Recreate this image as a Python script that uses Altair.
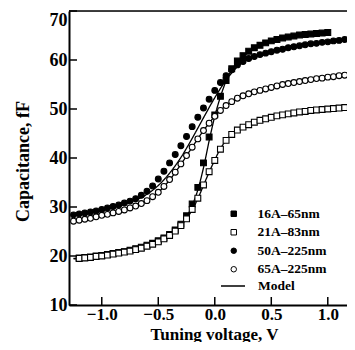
import altair as alt
import pandas as pd

# ---------------- data ----------------
SERIES = ["16A\u201365nm", "21A\u201383nm", "50A\u2013225nm", "65A\u2013225nm"]

v_16A = [-1.20, -1.15, -1.10, -1.05, -1.00, -0.95, -0.90, -0.85, -0.80, -0.75,
         -0.70, -0.65, -0.60, -0.55, -0.50, -0.45, -0.40, -0.35, -0.30, -0.25,
         -0.20, -0.15, -0.10, -0.05, 0.00, 0.05, 0.10, 0.15, 0.20, 0.25,
         0.30, 0.35, 0.40, 0.45, 0.50, 0.55, 0.60, 0.65, 0.70, 0.75,
         0.80, 0.85, 0.90, 0.95, 1.00]
c_16A = [19.6, 19.7, 19.8, 20.0, 20.1, 20.3, 20.5, 20.7, 20.9, 21.2,
         21.5, 21.8, 22.2, 22.6, 23.1, 23.7, 24.4, 25.3, 26.5, 28.2,
         30.6, 34.0, 39.0, 44.3, 48.8, 52.6, 55.8, 58.2, 59.8, 60.9,
         61.8, 62.5, 63.0, 63.5, 63.9, 64.2, 64.5, 64.7, 64.9, 65.1,
         65.2, 65.3, 65.4, 65.5, 65.6]

v_21A = [-1.20, -1.15, -1.10, -1.05, -1.00, -0.95, -0.90, -0.85, -0.80, -0.75,
         -0.70, -0.65, -0.60, -0.55, -0.50, -0.45, -0.40, -0.35, -0.30, -0.25,
         -0.20, -0.15, -0.10, -0.05, 0.00, 0.05, 0.10, 0.15, 0.20, 0.25,
         0.30, 0.35, 0.40, 0.45, 0.50, 0.55, 0.60, 0.65, 0.70, 0.75,
         0.80, 0.85, 0.90, 0.95, 1.00, 1.05, 1.10, 1.15, 1.20]
c_21A = [19.5, 19.6, 19.7, 19.9, 20.0, 20.2, 20.4, 20.6, 20.8, 21.0,
         21.3, 21.6, 22.0, 22.4, 22.9, 23.5, 24.2, 25.1, 26.2, 27.6,
         29.5, 31.8, 34.5, 37.2, 39.5, 41.8, 43.6, 44.8, 45.7, 46.3,
         46.8, 47.3, 47.7, 48.0, 48.3, 48.6, 48.8, 49.0, 49.2, 49.4,
         49.5, 49.7, 49.8, 49.9, 50.0, 50.1, 50.2, 50.3, 50.3]

v_circ = [-1.25, -1.20, -1.15, -1.10, -1.05, -1.00, -0.95, -0.90, -0.85, -0.80,
          -0.75, -0.70, -0.65, -0.60, -0.55, -0.50, -0.45, -0.40, -0.35, -0.30,
          -0.25, -0.20, -0.15, -0.10, -0.05, 0.00, 0.05, 0.10, 0.15, 0.20,
          0.25, 0.30, 0.35, 0.40, 0.45, 0.50, 0.55, 0.60, 0.65, 0.70,
          0.75, 0.80, 0.85, 0.90, 0.95, 1.00, 1.05, 1.10, 1.15, 1.20]
c_50A = [28.4, 28.6, 28.8, 29.0, 29.2, 29.5, 29.8, 30.1, 30.4, 30.8,
         31.2, 31.7, 32.4, 33.2, 34.3, 35.7, 37.3, 39.0, 40.7, 42.5,
         44.4, 46.4, 48.3, 50.2, 52.0, 53.8, 55.4, 56.8, 58.0, 59.0,
         59.7, 60.3, 60.7, 61.1, 61.4, 61.7, 62.0, 62.2, 62.5, 62.7,
         62.9, 63.1, 63.3, 63.4, 63.6, 63.7, 63.9, 64.0, 64.2, 64.3]
c_65A = [27.1, 27.3, 27.5, 27.7, 28.0, 28.3, 28.5, 28.8, 29.1, 29.4,
         29.8, 30.2, 30.7, 31.3, 32.1, 33.0, 34.2, 35.6, 37.1, 38.8,
         40.5, 42.2, 43.9, 45.6, 47.1, 48.5, 49.7, 50.7, 51.5, 52.2,
         52.7, 53.1, 53.5, 53.8, 54.1, 54.4, 54.7, 55.0, 55.2, 55.4,
         55.6, 55.8, 56.0, 56.2, 56.3, 56.5, 56.6, 56.8, 56.9, 57.0]

# model curves
vm_16A = [-1.25, -1.0, -0.8, -0.6, -0.5, -0.4, -0.3, -0.2, -0.15, -0.1, -0.05,
          0.0, 0.05, 0.1, 0.15, 0.2, 0.3, 0.4, 0.5, 0.6, 0.7, 0.8, 0.9, 1.0]
cm_16A = [19.5, 20.1, 20.9, 22.2, 23.1, 24.4, 26.4, 30.3, 33.5, 38.0, 43.5,
          48.5, 52.5, 55.7, 58.0, 59.6, 61.6, 62.9, 63.8, 64.4, 64.9, 65.2, 65.4, 65.6]
vm_21A = [-1.25, -1.0, -0.8, -0.6, -0.5, -0.4, -0.3, -0.2, -0.15, -0.1, -0.05,
          0.0, 0.05, 0.1, 0.15, 0.2, 0.3, 0.4, 0.5, 0.6, 0.7, 0.8, 0.9, 1.0, 1.1, 1.2]
cm_21A = [19.4, 20.0, 20.8, 22.0, 22.9, 24.2, 26.2, 29.4, 31.7, 34.4, 37.1,
          39.6, 41.9, 43.6, 44.8, 45.7, 46.8, 47.7, 48.3, 48.8, 49.2, 49.5, 49.8, 50.0, 50.2, 50.3]
vm_circ = [-1.25, -1.0, -0.8, -0.6, -0.5, -0.4, -0.3, -0.2, -0.1, 0.0, 0.1,
           0.2, 0.3, 0.4, 0.5, 0.6, 0.7, 0.8, 0.9, 1.0, 1.1, 1.2]
cm_50A = [28.2, 29.3, 30.6, 32.6, 34.4, 36.9, 40.1, 44.0, 48.2, 52.3, 55.9,
          58.6, 60.2, 61.1, 61.8, 62.3, 62.8, 63.2, 63.5, 63.8, 64.1, 64.3]
cm_65A = [27.0, 28.2, 29.4, 31.3, 33.0, 35.5, 38.7, 42.2, 45.6, 48.5, 50.7,
          52.2, 53.1, 53.8, 54.4, 55.0, 55.4, 55.8, 56.2, 56.5, 56.8, 57.0]

X_TICKS = [-1.0, -0.5, 0.0, 0.5, 1.0]
Y_TICKS = [10, 20, 30, 40, 50, 60, 70]

# ---------------- tables ----------------
pts = pd.concat([
    pd.DataFrame({"v": v_16A, "c": c_16A, "series": SERIES[0]}),
    pd.DataFrame({"v": v_21A, "c": c_21A, "series": SERIES[1]}),
    pd.DataFrame({"v": v_circ, "c": c_50A, "series": SERIES[2]}),
    pd.DataFrame({"v": v_circ, "c": c_65A, "series": SERIES[3]}),
], ignore_index=True)

mdl = pd.concat([
    pd.DataFrame({"v": vm_16A, "c": cm_16A, "series": SERIES[0]}),
    pd.DataFrame({"v": vm_21A, "c": cm_21A, "series": SERIES[1]}),
    pd.DataFrame({"v": vm_circ, "c": cm_50A, "series": SERIES[2]}),
    pd.DataFrame({"v": vm_circ, "c": cm_65A, "series": SERIES[3]}),
], ignore_index=True)
mdl["kind"] = "Model"

# ---------------- styling ----------------
FONT = "Liberation Serif"
W, H = 278, 294
TICK = 8

xs = alt.Scale(domain=[-1.29, 1.17], nice=False, zero=False)
ys = alt.Scale(domain=[10, 70], nice=False, zero=False)

x_axis = alt.Axis(values=X_TICKS, format=".1f", grid=False, tickSize=0,
                  labelFont=FONT, labelFontWeight="bold", labelFontSize=17,
                  labelColor="black", labelPadding=1, labelFlush=False,
                  domainColor="black", domainWidth=2,
                  title="Tuning voltage, V", titleFont=FONT, titleFontWeight="bold",
                  titleFontSize=17, titleColor="black",
                  titleX=145, titleY=34, titleBaseline="alphabetic")
y_axis = alt.Axis(values=Y_TICKS, format="d", grid=False, tickSize=0,
                  labelFont=FONT, labelFontWeight="bold", labelFontSize=18,
                  labelColor="black", labelPadding=2, labelFlush=False,
                  labelBaseline={"condition": {"test": "datum.value == 70", "value": "top"},
                                 "value": "middle"},
                  domainColor="black", domainWidth=2,
                  title="Capacitance, fF", titleFont=FONT, titleFontWeight="bold",
                  titleFontSize=18, titleColor="black",
                  titleX=-41, titleY=150, titleBaseline="alphabetic")

LEG_FONT = dict(labelFont=FONT, labelFontWeight="bold", labelFontSize=13.5,
                labelColor="black", padding=0, title=None, orient="none")
pt_legend = alt.Legend(legendX=158, legendY=196, symbolSize=30,
                       symbolStrokeWidth=1, rowPadding=3.5, labelOffset=17, **LEG_FONT)
ln_legend = alt.Legend(legendX=151, legendY=262, symbolType="stroke", symbolSize=576,
                       symbolStrokeWidth=1.5, symbolStrokeColor="black",
                       labelOffset=12, **LEG_FONT)

lines = alt.Chart(mdl).mark_line(strokeWidth=1.3, clip=True, interpolate="monotone",
                                 color="black").encode(
    x=alt.X("v:Q", scale=xs, axis=x_axis),
    y=alt.Y("c:Q", scale=ys, axis=y_axis),
    detail="series:N",
    strokeDash=alt.StrokeDash("kind:N", scale=alt.Scale(domain=["Model"], range=[[1, 0]]),
                              legend=ln_legend),
)

points = alt.Chart(pts).mark_point(filled=True, strokeWidth=1.1,
                                   size=34, opacity=1, clip=True).encode(
    x=alt.X("v:Q", scale=xs, axis=x_axis),
    y=alt.Y("c:Q", scale=ys, axis=y_axis),
    shape=alt.Shape("series:N", scale=alt.Scale(domain=SERIES,
                    range=["square", "square", "circle", "circle"]), legend=pt_legend),
    fill=alt.Fill("series:N", scale=alt.Scale(domain=SERIES,
                  range=["black", "white", "black", "white"]), legend=pt_legend),
    stroke=alt.Stroke("series:N", scale=alt.Scale(domain=SERIES,
                      range=["black", "black", "black", "black"]), legend=pt_legend),
)

xticks = alt.Chart(pd.DataFrame({"t": X_TICKS})).mark_rule(color="black", strokeWidth=1.5).encode(
    x=alt.X("t:Q", scale=xs, axis=x_axis),
    y=alt.value(H), y2=alt.value(H - TICK),
)
yticks = alt.Chart(pd.DataFrame({"t": Y_TICKS})).mark_rule(color="black", strokeWidth=1.5).encode(
    y=alt.Y("t:Q", scale=ys, axis=y_axis),
    x=alt.value(0), x2=alt.value(TICK),
)
topline = alt.Chart(pd.DataFrame({"t": [0]})).mark_rule(color="black", strokeWidth=1.5).encode(
    x=alt.value(0), x2=alt.value(W), y=alt.value(0),
)

chart = alt.layer(lines, points, xticks, yticks, topline).properties(
    width=W, height=H,
    autosize=alt.AutoSizeParams(type="none"),
    padding={"left": 61, "top": 3, "right": 0, "bottom": 37},
).configure_view(stroke=None).configure(background="white")

chart.save("out.html", embed_options={"renderer": "svg", "actions": False})
